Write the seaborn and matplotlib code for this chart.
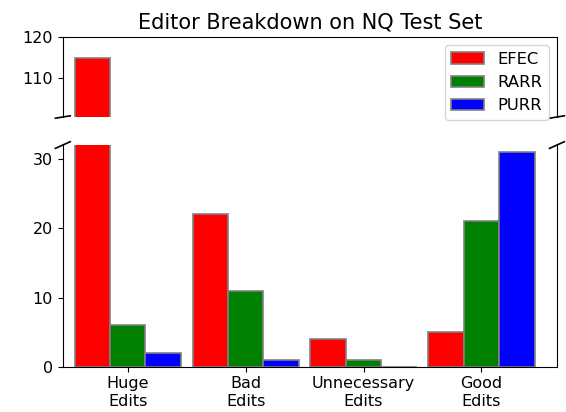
import pandas as pd
import matplotlib
matplotlib.use("Agg")
import matplotlib.pyplot as plt
import seaborn as sns

categories = ["Huge\nEdits", "Bad\nEdits", "Unnecessary\nEdits", "Good\nEdits"]
editors = ["EFEC", "RARR", "PURR"]
efec = [115, 22, 4, 5]
rarr = [6, 11, 1, 21]
purr = [2, 1, 0, 31]
colors = ["red", "green", "blue"]

df = pd.DataFrame({
    "category": categories * 3,
    "editor": ["EFEC"] * 4 + ["RARR"] * 4 + ["PURR"] * 4,
    "count": efec + rarr + purr,
})

fig = plt.figure(figsize=(5.66, 4.12), dpi=100)
ax1 = fig.add_axes([0.111, 0.716, 0.873, 0.194])
ax2 = fig.add_axes([0.111, 0.109, 0.873, 0.539], sharex=ax1)

for ax in (ax1, ax2):
    sns.barplot(data=df, x="category", y="count", hue="editor", hue_order=editors,
                palette=colors, width=0.9, edgecolor="gray", linewidth=1.2,
                saturation=1, ax=ax, legend=(ax is ax1))
    ax.set_xlabel("")
    ax.set_ylabel("")
    ax.tick_params(labelsize=11.5)

ax2.tick_params(axis="x", pad=3)

ax1.set_ylim(100.5, 120)
ax1.set_yticks([110, 120])
ax2.set_ylim(0, 32)
ax2.set_yticks([0, 10, 20, 30])
ax2.set_xlim(-0.55, 3.64)

ax1.spines["bottom"].set_visible(False)
ax2.spines["top"].set_visible(False)
ax1.tick_params(axis="x", bottom=False, labelbottom=False)

ax1.legend(loc="upper right", fontsize=11.8)
ax1.set_title("Editor Breakdown on NQ Test Set", fontsize=15)

# Bruchstriche
d = .015
kw = dict(transform=ax1.transAxes, color="k", clip_on=False, linewidth=1.2)
ax1.plot((-d, +d), (-d, +d), **kw)
ax1.plot((1 - d, 1 + d), (-d, +d), **kw)
kw.update(transform=ax2.transAxes)
ax2.plot((-d, +d), (1 - d, 1 + d), **kw)
ax2.plot((1 - d, 1 + d), (1 - d, 1 + d), **kw)

plt.savefig("out.png", dpi=100)
